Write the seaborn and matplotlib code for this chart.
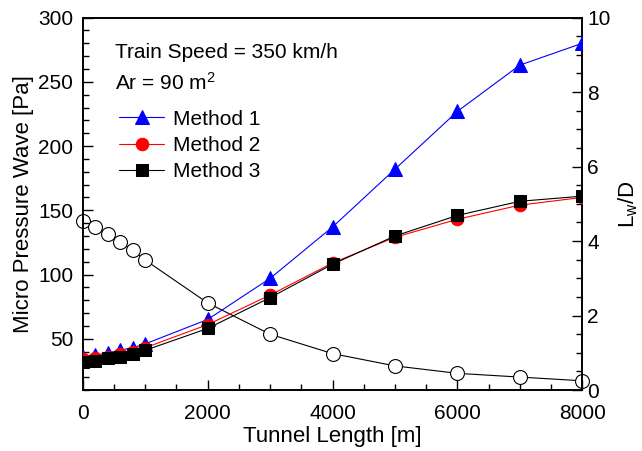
import matplotlib
matplotlib.use("Agg")
import matplotlib.pyplot as plt
import numpy as np
import pandas as pd
import seaborn as sns
from matplotlib.ticker import MultipleLocator

# Tunnel length [m]
tunnel_length = [0, 200, 400, 600, 800, 1000, 2000, 3000, 4000, 5000, 6000, 7000, 8000]

# Micro pressure wave [Pa]
method1 = [36, 37, 39, 41, 43, 46, 65, 97, 137, 182, 227, 263, 280]
method2 = [34, 35, 36, 38, 40, 43, 61, 84, 109, 129, 143, 154, 160]
method3 = [32, 33, 35, 36, 38, 41, 58, 82, 108, 130, 146, 157, 161]

# Lw/D (right axis)
lw_over_d = [4.55, 4.38, 4.18, 3.97, 3.75, 3.49, 2.34, 1.50, 0.98, 0.65, 0.45, 0.35, 0.25]

sns.set_style("ticks", {
    "axes.edgecolor": "black",
    "axes.labelcolor": "black",
    "text.color": "black",
    "xtick.color": "black",
    "ytick.color": "black",
})
plt.rcParams["font.family"] = ["Liberation Sans", "DejaVu Sans"]
plt.rcParams["mathtext.fontset"] = "custom"
plt.rcParams["mathtext.rm"] = "Liberation Sans"
plt.rcParams["mathtext.it"] = "Liberation Sans"

df = pd.DataFrame({
    "x": tunnel_length,
    "Method 1": method1,
    "Method 2": method2,
    "Method 3": method3,
    "lwd": lw_over_d,
})

fig, ax = plt.subplots(figsize=(6.42, 4.51), dpi=100)
fig.subplots_adjust(left=0.129, right=0.907, top=0.961, bottom=0.135)

styles = [
    ("Method 1", "blue", "^", 10),
    ("Method 2", "red", "o", 9),
    ("Method 3", "black", "s", 8),
]
for i, (name, color, marker, ms) in enumerate(styles):
    sns.lineplot(data=df, x="x", y=name, ax=ax, color=color, marker=marker,
                 markersize=ms, markeredgecolor=color, linewidth=0.8,
                 label=name, zorder=3 + i)

ax.set_xlim(0, 8000)
ax.set_ylim(10, 300)
ax.xaxis.set_major_locator(MultipleLocator(2000))
ax.xaxis.set_minor_locator(MultipleLocator(500))
ax.yaxis.set_major_locator(MultipleLocator(50))
ax.yaxis.set_minor_locator(MultipleLocator(10))
ax.set_yticks([50, 100, 150, 200, 250, 300])
ax.tick_params(axis="both", which="both", direction="in", labelsize=15,
               top=False, right=False, width=1)
ax.tick_params(which="major", length=7)
ax.tick_params(which="minor", length=4)
ax.tick_params(axis="x", pad=10)
ax.tick_params(axis="y", pad=7)
ax.set_xlabel("Tunnel Length [m]", fontsize=16, labelpad=2)
ax.set_ylabel("Micro Pressure Wave [Pa]", fontsize=16, labelpad=3)

ax2 = ax.twinx()
sns.lineplot(data=df, x="x", y="lwd", ax=ax2, color="black", marker="o",
             markersize=10, markerfacecolor="white", markeredgecolor="black",
             markeredgewidth=0.8, linewidth=0.8, clip_on=False, zorder=2)
ax2.set_ylim(0, 10)
ax2.yaxis.set_major_locator(MultipleLocator(2))
ax2.yaxis.set_minor_locator(MultipleLocator(0.5))
ax2.tick_params(axis="y", which="both", direction="in", labelsize=15, width=1)
ax2.tick_params(which="major", length=7)
ax2.tick_params(which="minor", length=4)
ax2.set_ylabel("L$_w$/D", fontsize=16, labelpad=4)
ax2.set_xlabel("")

for a in (ax, ax2):
    for s in a.spines.values():
        s.set_linewidth(1.2)
        s.set_color("black")
        s.set_visible(True)

ax.set_zorder(ax2.get_zorder() + 1)
ax.patch.set_visible(False)

ax.text(0.064, 0.907, "Train Speed = 350 km/h", transform=ax.transAxes,
        fontsize=15, va="center", ha="left")
ax.text(0.064, 0.826, "Ar = 90 m$^2$", transform=ax.transAxes,
        fontsize=15, va="center", ha="left")

ax.legend(loc="upper left", bbox_to_anchor=(0.055, 0.775), frameon=False,
          fontsize=15, handlelength=2.2, handletextpad=0.4, labelspacing=0.35,
          borderaxespad=0)

fig.savefig("out.png", dpi=100)
